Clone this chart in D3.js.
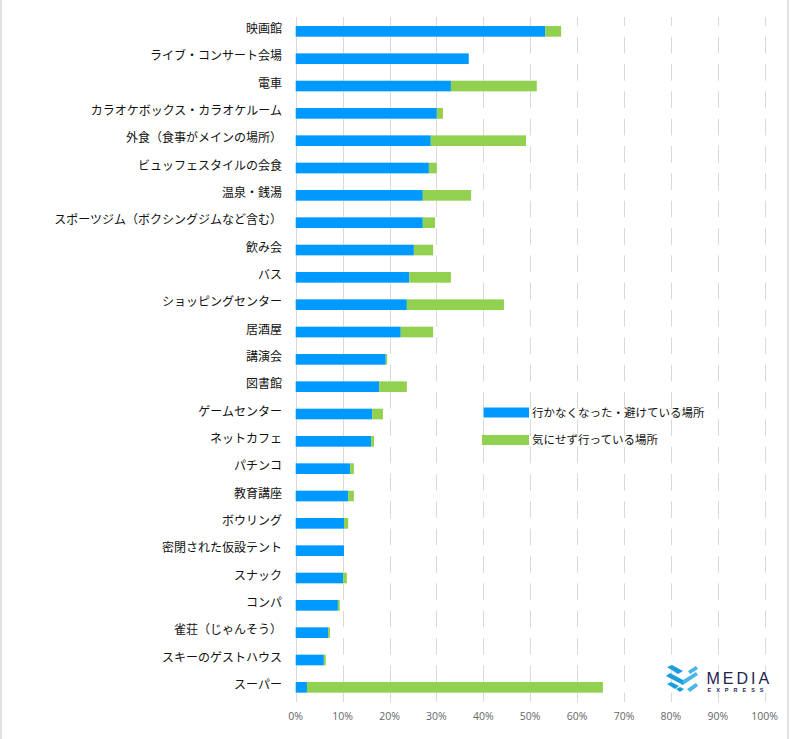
<!DOCTYPE html>
<html><head><meta charset="utf-8">
<script src="https://cdn.jsdelivr.net/npm/d3@7/dist/d3.min.js"></script>
<style>body{margin:0;background:#fff}svg{display:block}</style>
</head><body>
<svg id="chart" width="790" height="739"></svg>
<script>
const categories = ["映画館","ライブ・コンサート会場","電車","カラオケボックス・カラオケルーム","外食（食事がメインの場所）","ビュッフェスタイルの会食","温泉・銭湯","スポーツジム（ボクシングジムなど含む）","飲み会","バス","ショッピングセンター","居酒屋","講演会","図書館","ゲームセンター","ネットカフェ","パチンコ","教育講座","ボウリング","密閉された仮設テント","スナック","コンパ","雀荘（じゃんそう）","スキーのゲストハウス","スーパー"];
const avoided = [53.2,36.9,33.1,30.1,28.8,28.4,27.1,27.1,25.2,24.2,23.7,22.4,19.2,17.8,16.3,16.1,11.6,11.2,10.3,10.3,10.1,9.0,6.9,6.0,2.4];
const notCare = [3.4,0,18.3,1.3,20.3,1.7,10.3,2.6,4.1,8.9,20.7,6.9,0.3,5.9,2.3,0.6,0.8,1.2,0.9,0,0.8,0.4,0.4,0.4,63.1];
const seriesNames = ["行かなくなった・避けている場所","気にせず行っている場所"];
const seriesColors = ["#0099ff","#92d050"];
const tickValues = [0,10,20,30,40,50,60,70,80,90,100];

(function(){
const svg = d3.select("#chart");
const W = 790, H = 739;
const x = d3.scaleLinear().domain([0,100]).range([295.7,764.7]);
const y = d3.scaleBand().domain(categories).range([17.7,701]).paddingInner(0.61).paddingOuter(0.305);
const bw = y.bandwidth();
const plotTop = 17, plotBottom = 702;

// outer border lines
svg.append("line").attr("x1",1).attr("x2",1).attr("y1",0).attr("y2",H).attr("stroke","#d9d9d9").attr("stroke-width",1.5);
svg.append("line").attr("x1",788).attr("x2",788).attr("y1",0).attr("y2",H).attr("stroke","#d9d9d9").attr("stroke-width",1.5);

// gridlines (broken at bar rows)
const g = svg.append("g");
tickValues.forEach(t => {
  const xx = Math.round(x(t)) + 0.5;
  if (t === 0) {
    g.append("line").attr("x1",xx).attr("x2",xx).attr("y1",plotTop).attr("y2",plotBottom).attr("stroke","#d9d9d9");
    return;
  }
  for (let i = 0; i <= categories.length; i++) {
    const y1 = i === 0 ? plotTop : y(categories[i-1]) + bw;
    const y2 = i === categories.length ? plotBottom : y(categories[i]);
    g.append("line").attr("x1",xx).attr("x2",xx).attr("y1",y1).attr("y2",y2).attr("stroke","#d9d9d9");
  }
});

// bars
const rows = categories.map((c,i)=>({c, a: avoided[i], n: notCare[i]}));
svg.append("g").selectAll("rect").data(rows).join("rect")
  .attr("x", x(0)).attr("y", d=>y(d.c)).attr("height", bw)
  .attr("width", d=>x(d.a)-x(0)).attr("fill", seriesColors[0]);
svg.append("g").selectAll("rect").data(rows.filter(d=>d.n>0)).join("rect")
  .attr("x", d=>x(d.a)).attr("y", d=>y(d.c)).attr("height", bw)
  .attr("width", d=>x(d.a+d.n)-x(d.a)).attr("fill", seriesColors[1]);

// category labels
svg.append("g").selectAll("text").data(categories).join("text")
  .attr("x", 282).attr("y", d=>y(d)+bw/2).attr("dy","0.15em")
  .attr("text-anchor","end")
  .attr("font-family","'Noto Sans CJK JP', sans-serif").attr("font-size",12)
  .attr("fill","#111").text(d=>d);

// x tick labels
svg.append("g").selectAll("text").data(tickValues).join("text")
  .attr("x", d=>x(d)).attr("y", 720).attr("text-anchor","middle")
  .attr("font-family","'Open Sans', sans-serif").attr("font-size",10.5)
  .attr("fill","#666").text(d=>d+"%");

// legend
const leg = svg.append("g");
const legY = [412.5, 440];
seriesNames.forEach((s,i)=>{
  leg.append("rect").attr("x", i===0?483.5:482).attr("y", legY[i]-5).attr("width", i===0?45.5:47).attr("height", 10)
    .attr("fill", seriesColors[i]);
  leg.append("text").attr("x", 532).attr("y", legY[i]).attr("dy","0.35em")
    .attr("font-family","'Noto Sans CJK JP', sans-serif").attr("font-size",11.5)
    .attr("fill","#111").text(s);
});

// logo
const logo = svg.append("g");
const blue1 = "#1a9ee0", blue2 = "#47b6ea";
const polys = [
  [[667,667],[672,665],[683,671],[678,674]],
  [[688,671],[696,666],[698,669],[690,674]],
  [[666,676],[670,673],[683,680],[683,685]],
  [[683,680],[696,672],[698,675],[683,685]],
  [[667,684],[671,682],[679,686],[675,689]],
  [[687,689],[696,683],[698,686],[690,692]],
  [[676,689],[680,687],[684,689],[680,692]]
];
polys.forEach((p,i)=>{
  logo.append("polygon").attr("points", p.map(q=>q.join(",")).join(" "))
    .attr("fill", i%2===0 ? blue1 : blue2);
});
logo.append("text").attr("x",706.5).attr("y",683.5).attr("font-family","'Liberation Sans', sans-serif")
  .attr("font-size",16).attr("letter-spacing",3).attr("fill","#1b2452").text("MEDIA");
logo.append("text").attr("x",707.5).attr("y",692.3).attr("font-family","'Liberation Sans', sans-serif")
  .attr("font-size",5.5).attr("font-weight",700).attr("letter-spacing",5).attr("fill","#1b2452").text("EXPRESS");
})();
</script>
</body></html>
